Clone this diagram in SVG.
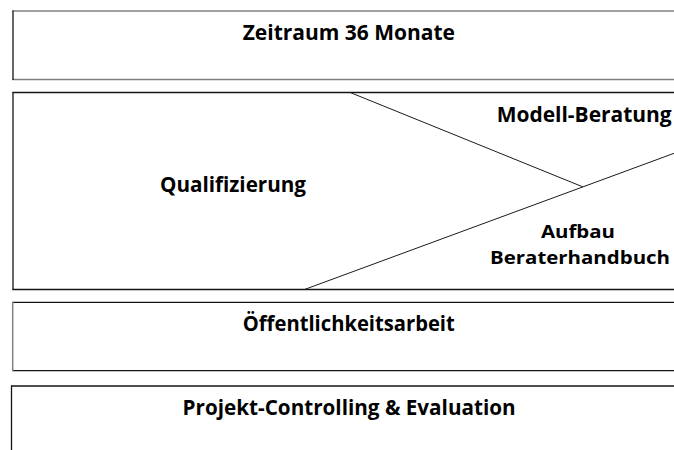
<svg xmlns="http://www.w3.org/2000/svg" width="674" height="450" viewBox="0 0 674 450">
<style>
text{font-family:"Open Sans",Lato,"Liberation Sans",sans-serif;font-weight:700;font-size:20.5px;fill:#000}
text.sm{font-size:18.5px}
.bg{fill:#fff;stroke:none}
.dk{stroke:#151515;stroke-width:1.3;fill:none}
.gr{stroke:#808080;stroke-width:1.5;fill:none}
.div{stroke:#1a1a1a;stroke-width:1;fill:none}
</style>
<rect width="674" height="450" fill="#fff"/>
<g id="zeitraum">
<rect class="bg" x="13" y="11" width="661" height="68.5"/>
<line class="gr" x1="12.5" y1="11" x2="674" y2="11"/>
<line class="gr" x1="12.5" y1="79.5" x2="674" y2="79.5"/>
<line class="dk" x1="13" y1="10.5" x2="13" y2="80"/>
<text x="242.7" y="40" textLength="212.3" lengthAdjust="spacingAndGlyphs">Zeitraum 36 Monate</text>
</g>
<g id="qualifizierung">
<rect class="bg" x="13" y="92.5" width="661" height="197"/>
<line class="dk" x1="12.5" y1="92.5" x2="674" y2="92.5"/>
<line class="dk" x1="12.5" y1="289.5" x2="674" y2="289.5"/>
<line class="dk" x1="13" y1="92" x2="13" y2="290"/>
<text x="160" y="192" textLength="146" lengthAdjust="spacingAndGlyphs">Qualifizierung</text>
</g>
<g id="modell-beratung">
<text x="496.7" y="121.5" textLength="175" lengthAdjust="spacingAndGlyphs">Modell-Beratung</text>
</g>
<g id="aufbau-beraterhandbuch">
<text class="sm" x="541" y="237.8" textLength="74" lengthAdjust="spacingAndGlyphs">Aufbau</text>
<text class="sm" x="490" y="263.5" textLength="180" lengthAdjust="spacingAndGlyphs">Beraterhandbuch</text>
</g>
<g id="connectors">
<line class="div" x1="350.7" y1="92.7" x2="582.7" y2="186.8"/>
<line class="div" x1="305" y1="289.3" x2="674" y2="153.3"/>
</g>
<g id="oeffentlichkeitsarbeit">
<rect class="bg" x="12.7" y="302.3" width="661.3" height="68.4"/>
<line class="dk" x1="12" y1="302.3" x2="674" y2="302.3"/>
<line class="dk" x1="12" y1="370.7" x2="674" y2="370.7"/>
<line class="gr" x1="12.7" y1="302" x2="12.7" y2="371"/>
<text x="242.8" y="331" textLength="212" lengthAdjust="spacingAndGlyphs">Öffentlichkeitsarbeit</text>
</g>
<g id="projekt-controlling">
<rect class="bg" x="11.5" y="386" width="662.5" height="64"/>
<line class="dk" x1="11" y1="386" x2="674" y2="386" stroke="#333" stroke-width="1.6"/>
<line class="dk" x1="11.5" y1="385.5" x2="11.5" y2="450"/>
<text x="182.6" y="415" textLength="333" lengthAdjust="spacingAndGlyphs">Projekt-Controlling &amp; Evaluation</text>
</g>
</svg>
